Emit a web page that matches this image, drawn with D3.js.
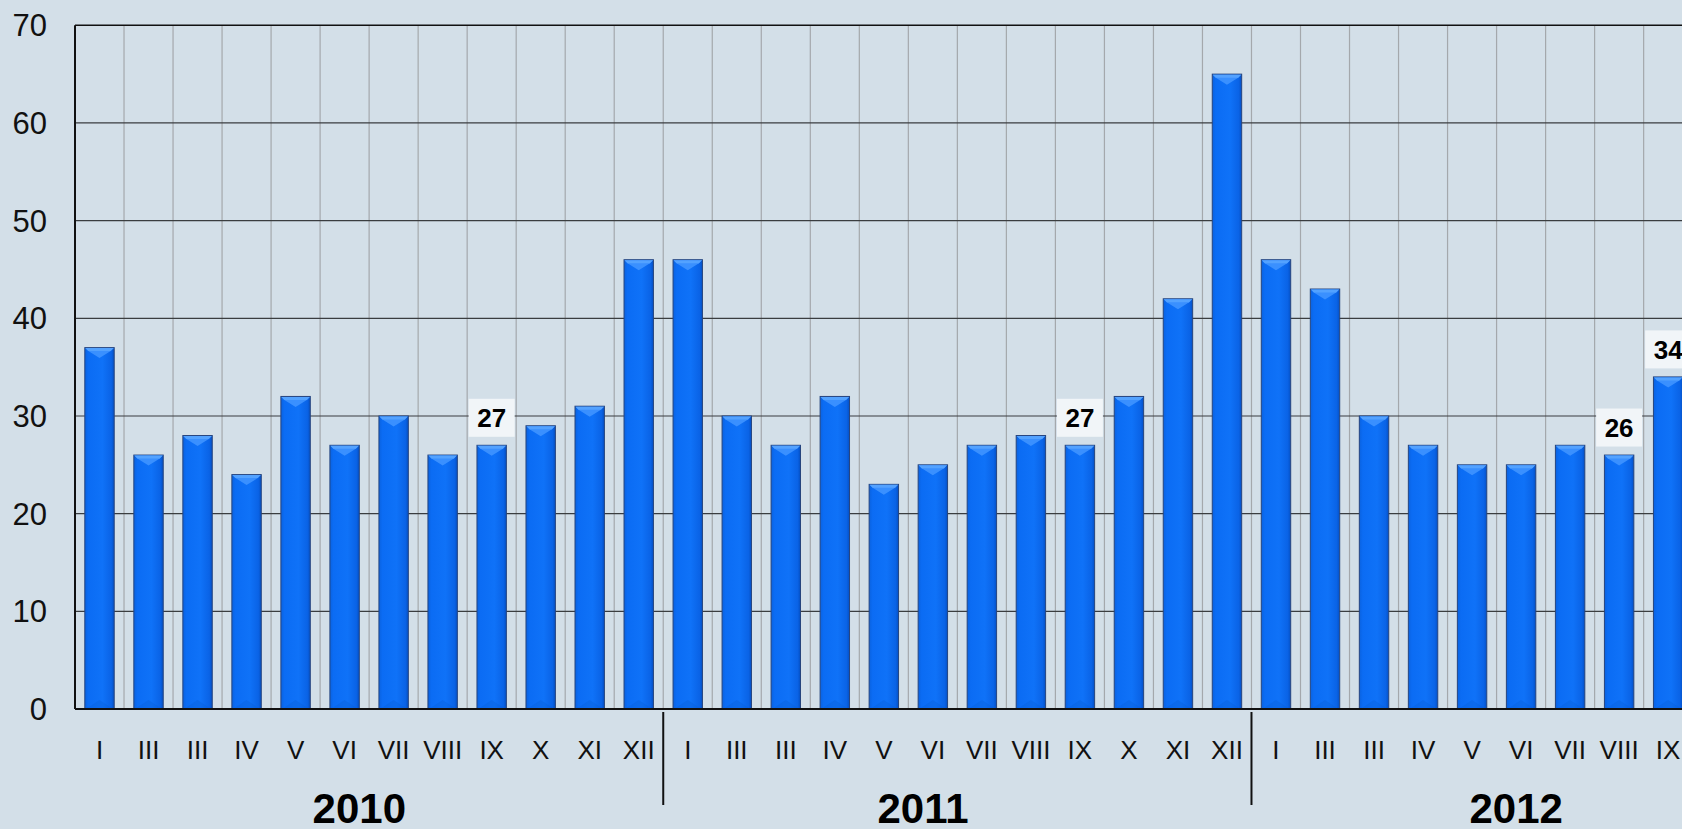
<!DOCTYPE html>
<html>
<head>
<meta charset="utf-8">
<script src="https://cdn.jsdelivr.net/npm/d3@7"></script>
<style>
  html, body { margin: 0; padding: 0; background: #d3dfe8; overflow: hidden; }
  svg { display: block; font-family: "Liberation Sans", Arial, sans-serif; }
</style>
</head>
<body>
<svg id="chart" width="1682" height="829"></svg>
<script>
// ---- data ----
const years = ["2010", "2011", "2012"];
const monthLabels = ["I", "III", "III", "IV", "V", "VI", "VII", "VIII", "IX", "X", "XI", "XII"];
const values2010 = [37, 26, 28, 24, 32, 27, 30, 26, 27, 29, 31, 46];
const values2011 = [46, 30, 27, 32, 23, 25, 27, 28, 27, 32, 42, 65];
const values2012 = [46, 43, 30, 27, 25, 25, 27, 26, 34];
const labelled = [[0, 8], [1, 8], [2, 7], [2, 8]]; // [year index, month index] with value boxes
const yTicks = [0, 10, 20, 30, 40, 50, 60, 70];

const series = [values2010, values2011, values2012];
const data = [];
series.forEach((vals, yi) => vals.forEach((v, mi) => {
  data.push({ year: years[yi], yi, mi, month: monthLabels[mi], value: v,
              labelled: labelled.some(l => l[0] === yi && l[1] === mi) });
}));
data.forEach((d, i) => d.i = i);

// ---- layout ----
const svg = d3.select("#chart");
const plotLeft = 75, plotTop = 25.3, plotBottom = 709;
const nBands = 33;
const stepPx = 49.02;
const x = d3.scaleBand().domain(d3.range(nBands)).range([plotLeft, plotLeft + nBands * stepPx])
  .paddingInner(0.4).paddingOuter(0.2);
const y = d3.scaleLinear().domain([0, 70]).range([plotBottom, plotTop]);
const st = x.step();
const bound = i => plotLeft + i * st;

// defs
const defs = svg.append("defs");
const g1 = defs.append("linearGradient").attr("id", "barGrad").attr("x1", "0").attr("x2", "1").attr("y1", "0").attr("y2", "0");
g1.append("stop").attr("offset", "0").attr("stop-color", "#0a62e0");
g1.append("stop").attr("offset", "0.12").attr("stop-color", "#0b6cf4");
g1.append("stop").attr("offset", "0.6").attr("stop-color", "#0f72f8");
g1.append("stop").attr("offset", "0.9").attr("stop-color", "#0a63e6");
g1.append("stop").attr("offset", "1").attr("stop-color", "#0550c4");

// vertical grid lines
svg.append("g").selectAll("line").data(d3.range(1, nBands + 1)).join("line")
  .attr("x1", d => bound(d)).attr("x2", d => bound(d))
  .attr("y1", plotTop).attr("y2", plotBottom)
  .attr("stroke", "#a4a8ac").attr("stroke-width", 1.2);

// horizontal grid lines
svg.append("g").selectAll("line").data(yTicks.filter(t => t > 0)).join("line")
  .attr("x1", plotLeft).attr("x2", 1682)
  .attr("y1", d => y(d)).attr("y2", d => y(d))
  .attr("stroke", d => d === 70 ? "#111" : "#3a3d40").attr("stroke-width", d => d === 70 ? 1.5 : 1.2);

// bars
const bars = svg.append("g").selectAll("g").data(data).join("g");
bars.append("rect")
  .attr("x", d => x(d.i)).attr("width", x.bandwidth())
  .attr("y", d => y(d.value)).attr("height", d => plotBottom - y(d.value))
  .attr("fill", "url(#barGrad)")
  .attr("stroke", "#27457e").attr("stroke-width", 1);
// top bevel
bars.append("path")
  .attr("d", d => {
    const x0 = x(d.i) + 0.5, x1 = x(d.i) + x.bandwidth() - 0.5, yt = y(d.value) + 0.5;
    const xc = (x0 + x1) / 2;
    return `M${x0},${yt} L${x1},${yt} L${x1 - 3},${yt + 3} L${xc},${yt + 10} L${x0 + 3},${yt + 3} Z`;
  })
  .attr("fill", "#3f93ff").attr("opacity", 0.9);
bars.append("path")
  .attr("d", d => {
    const x0 = x(d.i) + 0.5, x1 = x(d.i) + x.bandwidth() - 0.5, yt = y(d.value) + 0.5;
    return `M${x0},${yt} L${x1},${yt} L${x1 - 3},${yt + 3} L${x0 + 3},${yt + 3} Z`;
  })
  .attr("fill", "#5aa6ff").attr("opacity", 0.8);
// bottom faint bevel
bars.append("path")
  .attr("d", d => {
    const x0 = x(d.i) + 1, x1 = x(d.i) + x.bandwidth() - 1;
    const xc = (x0 + x1) / 2;
    return `M${x0},${plotBottom} L${xc},${plotBottom - 9} L${x1},${plotBottom} Z`;
  })
  .attr("fill", "#0a5fd8").attr("opacity", 0.35);

// axes lines
svg.append("line").attr("x1", plotLeft).attr("x2", 1682).attr("y1", plotBottom).attr("y2", plotBottom)
  .attr("stroke", "#111").attr("stroke-width", 2);
svg.append("line").attr("x1", plotLeft).attr("x2", plotLeft).attr("y1", plotTop).attr("y2", plotBottom)
  .attr("stroke", "#111").attr("stroke-width", 2);

// y tick labels
svg.append("g").selectAll("text").data(yTicks).join("text")
  .attr("x", 47).attr("y", d => y(d)).attr("dy", "0.36em")
  .attr("text-anchor", "end").attr("font-size", 31).attr("fill", "#111")
  .text(d => d);

// month labels
svg.append("g").selectAll("text").data(data).join("text")
  .attr("x", d => x(d.i) + x.bandwidth() / 2).attr("y", 759)
  .attr("text-anchor", "middle").attr("font-size", 26).attr("fill", "#111")
  .text(d => d.month);

// year separators
svg.append("g").selectAll("line").data([12, 24]).join("line")
  .attr("x1", d => bound(d)).attr("x2", d => bound(d))
  .attr("y1", 712).attr("y2", 805)
  .attr("stroke", "#111").attr("stroke-width", 2);

// year labels
const yearOffsets = [5.8, 5.3, 5.4];
svg.append("g").selectAll("text").data(years).join("text")
  .attr("x", (d, i) => bound(i * 12) + yearOffsets[i] * st).attr("y", 823)
  .attr("text-anchor", "middle").attr("font-size", 42).attr("font-weight", "bold").attr("fill", "#000")
  .text(d => d);

// value labels
const lab = svg.append("g").selectAll("g").data(data.filter(d => d.labelled)).join("g");
lab.append("rect")
  .attr("x", d => x(d.i) + x.bandwidth() / 2 - 23).attr("width", 46)
  .attr("y", d => y(d.value) - 46.5).attr("height", 38)
  .attr("fill", "#f1f5f8");
lab.append("text")
  .attr("x", d => x(d.i) + x.bandwidth() / 2).attr("y", d => y(d.value) - 27.5).attr("dy", "0.36em")
  .attr("text-anchor", "middle").attr("font-size", 26).attr("font-weight", "bold").attr("fill", "#000")
  .text(d => d.value);
</script>
</body>
</html>
